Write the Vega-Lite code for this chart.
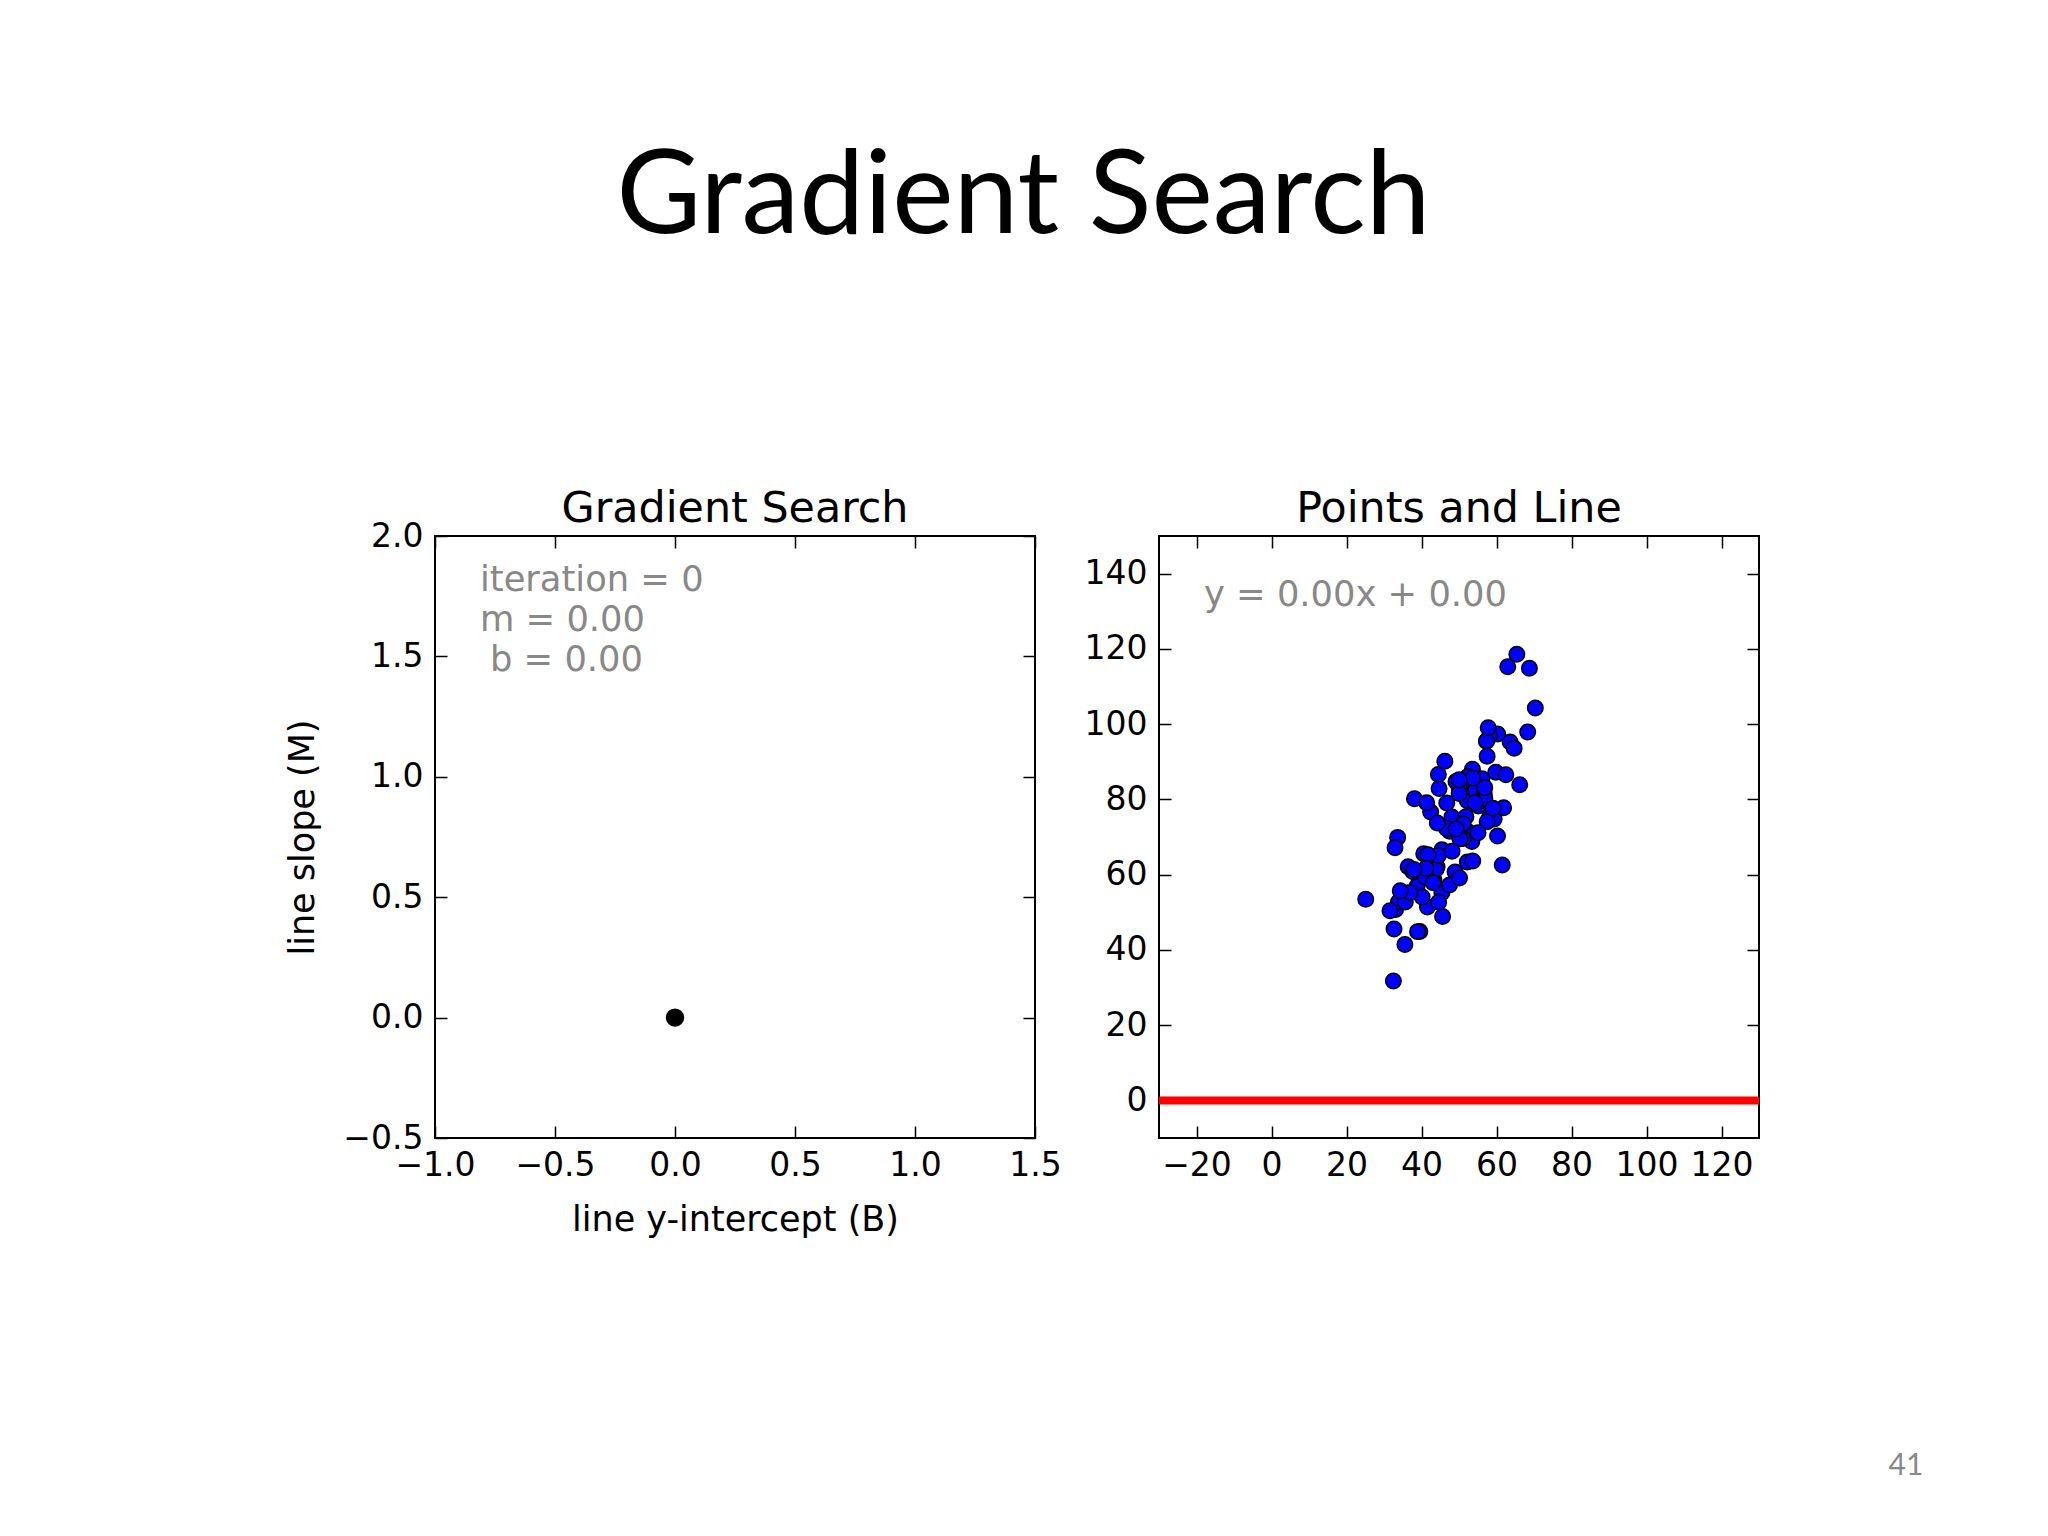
{
  "$schema": "https://vega.github.io/schema/vega-lite/v6.json",
  "background": "white",
  "padding": {"left": 284, "top": 140, "right": 0, "bottom": 0},
  "title": {"text": "Gradient Search", "font": "Lato", "fontSize": 116.1, "fontWeight": "normal", "color": "black", "anchor": "middle", "baseline": "alphabetic", "offset": 135, "dx": -81.2, "dy": -3},
  "spacing": 20,
  "datasets": {
    "points": [
      {"x": 32.50, "y": 31.71}, {"x": 53.43, "y": 68.78}, {"x": 61.53, "y": 62.56}, {"x": 47.48, "y": 71.55},
      {"x": 59.81, "y": 87.23}, {"x": 55.14, "y": 78.21}, {"x": 52.21, "y": 79.64}, {"x": 39.30, "y": 59.17},
      {"x": 48.11, "y": 75.33}, {"x": 52.55, "y": 71.30}, {"x": 45.42, "y": 55.17}, {"x": 54.35, "y": 82.48},
      {"x": 44.16, "y": 62.01}, {"x": 58.17, "y": 75.39}, {"x": 56.73, "y": 81.44}, {"x": 48.96, "y": 60.72},
      {"x": 44.69, "y": 82.89}, {"x": 60.30, "y": 97.38}, {"x": 45.62, "y": 48.85}, {"x": 38.82, "y": 56.88},
      {"x": 66.19, "y": 83.88}, {"x": 65.42, "y": 118.59}, {"x": 47.48, "y": 57.25}, {"x": 41.58, "y": 51.39},
      {"x": 51.85, "y": 75.38}, {"x": 59.37, "y": 74.77}, {"x": 57.31, "y": 95.46}, {"x": 63.62, "y": 95.23},
      {"x": 46.74, "y": 79.05}, {"x": 50.56, "y": 83.43}, {"x": 52.22, "y": 63.36}, {"x": 35.57, "y": 41.41},
      {"x": 42.44, "y": 76.62}, {"x": 58.16, "y": 96.77}, {"x": 57.50, "y": 74.08}, {"x": 45.44, "y": 66.59},
      {"x": 61.90, "y": 77.77}, {"x": 33.09, "y": 50.72}, {"x": 36.44, "y": 62.12}, {"x": 37.68, "y": 60.81},
      {"x": 44.56, "y": 52.68}, {"x": 43.32, "y": 58.57}, {"x": 50.07, "y": 82.91}, {"x": 43.87, "y": 61.42},
      {"x": 63.00, "y": 115.24}, {"x": 32.67, "y": 45.57}, {"x": 40.17, "y": 54.08}, {"x": 53.58, "y": 87.99},
      {"x": 33.86, "y": 52.73}, {"x": 64.71, "y": 93.58}, {"x": 38.12, "y": 80.17}, {"x": 44.50, "y": 65.10},
      {"x": 40.60, "y": 65.56}, {"x": 41.72, "y": 65.28}, {"x": 51.09, "y": 73.43}, {"x": 55.08, "y": 71.14},
      {"x": 41.38, "y": 79.10}, {"x": 62.49, "y": 86.52}, {"x": 49.20, "y": 84.74}, {"x": 41.10, "y": 59.36},
      {"x": 41.18, "y": 61.68}, {"x": 50.19, "y": 69.85}, {"x": 52.38, "y": 86.10}, {"x": 50.14, "y": 59.11},
      {"x": 33.64, "y": 69.90}, {"x": 39.56, "y": 44.86}, {"x": 56.13, "y": 85.50}, {"x": 57.36, "y": 95.54},
      {"x": 60.27, "y": 70.25}, {"x": 35.68, "y": 52.72}, {"x": 31.59, "y": 50.39}, {"x": 53.66, "y": 63.64},
      {"x": 46.68, "y": 72.25}, {"x": 43.11, "y": 57.81}, {"x": 70.35, "y": 104.26}, {"x": 44.49, "y": 86.64},
      {"x": 57.50, "y": 91.49}, {"x": 36.93, "y": 55.23}, {"x": 55.81, "y": 79.55}, {"x": 38.95, "y": 44.85},
      {"x": 56.90, "y": 80.21}, {"x": 56.87, "y": 83.14}, {"x": 34.33, "y": 55.72}, {"x": 59.05, "y": 77.63},
      {"x": 57.79, "y": 99.05}, {"x": 54.28, "y": 79.12}, {"x": 51.09, "y": 69.59}, {"x": 50.28, "y": 69.51},
      {"x": 44.21, "y": 73.69}, {"x": 38.01, "y": 61.37}, {"x": 32.94, "y": 67.17}, {"x": 53.69, "y": 85.67},
      {"x": 68.77, "y": 114.85}, {"x": 46.23, "y": 90.12}, {"x": 68.32, "y": 97.92}, {"x": 50.03, "y": 81.54},
      {"x": 49.24, "y": 72.11}, {"x": 50.04, "y": 85.23}, {"x": 48.15, "y": 66.22}, {"x": 25.13, "y": 53.45}
    ]
  },
  "config": {
    "view": {"stroke": "black", "strokeWidth": 2},
    "axis": {
      "grid": false, "domain": false, "ticks": true,
      "tickColor": "black", "tickWidth": 1.5, "tickSize": -12,
      "labelFont": "DejaVu Sans", "labelFontSize": 33, "labelColor": "black",
      "labelFlush": false, "labelOverlap": false, "labelBound": false,
      "titleFont": "DejaVu Sans", "titleFontSize": 35, "titleFontWeight": "normal", "titleColor": "black"
    },
    "axisX": {"labelPadding": 23},
    "axisY": {"labelPadding": 24},
    "title": {"font": "DejaVu Sans", "fontSize": 42.8, "fontWeight": "normal", "color": "black"}
  },
  "hconcat": [
    {
      "width": 600,
      "height": 602,
      "title": {"text": "Gradient Search", "offset": -45, "baseline": "alphabetic"},
      "data": {"values": [{"b": 0, "m": 0}]},
      "layer": [
        {
          "mark": {"type": "circle", "color": "black", "size": 340, "opacity": 1},
          "encoding": {
            "x": {"field": "b", "type": "quantitative", "scale": {"domain": [-1, 1.5], "nice": false, "zero": false},
                  "axis": {"orient": "bottom", "values": [-1, -0.5, 0, 0.5, 1, 1.5], "format": ".1f", "title": "line y-intercept (B)", "titlePadding": 20}},
            "y": {"field": "m", "type": "quantitative", "scale": {"domain": [-0.5, 2], "nice": false, "zero": false},
                  "axis": {"orient": "left", "values": [-0.5, 0, 0.5, 1, 1.5, 2], "format": ".1f", "title": "line slope (M)", "titlePadding": 22}}
          }
        },
        {
          "mark": {"type": "text", "align": "left", "baseline": "alphabetic", "font": "DejaVu Sans", "fontSize": 35.3, "color": "#888888", "text": "iteration = 0"},
          "encoding": {
            "x": {"datum": -0.8125, "type": "quantitative", "axis": {"orient": "top", "values": [-1, -0.5, 0, 0.5, 1, 1.5], "labels": false, "title": null}},
            "y": {"datum": 1.772, "type": "quantitative", "axis": {"orient": "right", "values": [-0.5, 0, 0.5, 1, 1.5, 2], "labels": false, "title": null}}
          }
        },
        {
          "mark": {"type": "text", "align": "left", "baseline": "alphabetic", "font": "DejaVu Sans", "fontSize": 35.3, "color": "#888888", "text": "m = 0.00"},
          "encoding": {
            "x": {"datum": -0.8125, "type": "quantitative", "axis": null},
            "y": {"datum": 1.605, "type": "quantitative", "axis": null}
          }
        },
        {
          "mark": {"type": "text", "align": "left", "baseline": "alphabetic", "font": "DejaVu Sans", "fontSize": 35.3, "color": "#888888", "text": "b = 0.00"},
          "encoding": {
            "x": {"datum": -0.771, "type": "quantitative", "axis": null},
            "y": {"datum": 1.439, "type": "quantitative", "axis": null}
          }
        }
      ],
      "resolve": {"axis": {"x": "independent", "y": "independent"}}
    },
    {
      "width": 600,
      "height": 602,
      "title": {"text": "Points and Line", "offset": -30, "baseline": "alphabetic"},
      "layer": [
        {
          "data": {"name": "points"},
          "mark": {"type": "circle", "fill": "#0000ff", "stroke": "black", "strokeWidth": 1.5, "size": 240, "opacity": 1},
          "encoding": {
            "x": {"field": "x", "type": "quantitative", "scale": {"domain": [-30, 130], "nice": false, "zero": false},
                  "axis": {"orient": "bottom", "values": [-20, 0, 20, 40, 60, 80, 100, 120], "title": null}},
            "y": {"field": "y", "type": "quantitative", "scale": {"domain": [-10, 150], "nice": false, "zero": false},
                  "axis": {"orient": "left", "values": [0, 20, 40, 60, 80, 100, 120, 140], "title": null}}
          }
        },
        {
          "data": {"values": [{}]},
          "mark": {"type": "rule", "color": "#ff0000", "strokeWidth": 8},
          "encoding": {
            "y": {"datum": 0, "type": "quantitative", "axis": null}
          }
        },
        {
          "data": {"values": [{}]},
          "mark": {"type": "text", "align": "left", "baseline": "alphabetic", "font": "DejaVu Sans", "fontSize": 35.3, "color": "#888888", "text": "y = 0.00x + 0.00"},
          "encoding": {
            "x": {"datum": -18, "type": "quantitative", "axis": {"orient": "top", "values": [-20, 0, 20, 40, 60, 80, 100, 120], "labels": false, "title": null}},
            "y": {"datum": 131.5, "type": "quantitative", "axis": {"orient": "right", "values": [0, 20, 40, 60, 80, 100, 120, 140], "labels": false, "title": null}}
          }
        },
        {
          "data": {"values": [{}]},
          "mark": {"type": "text", "align": "center", "baseline": "alphabetic", "font": "Lato", "fontSize": 30, "color": "#888888", "text": "41"},
          "encoding": {
            "x": {"datum": 169.2, "type": "quantitative", "axis": null},
            "y": {"datum": -99.7, "type": "quantitative", "axis": null}
          }
        }
      ],
      "resolve": {"axis": {"x": "independent", "y": "independent"}}
    }
  ]
}
